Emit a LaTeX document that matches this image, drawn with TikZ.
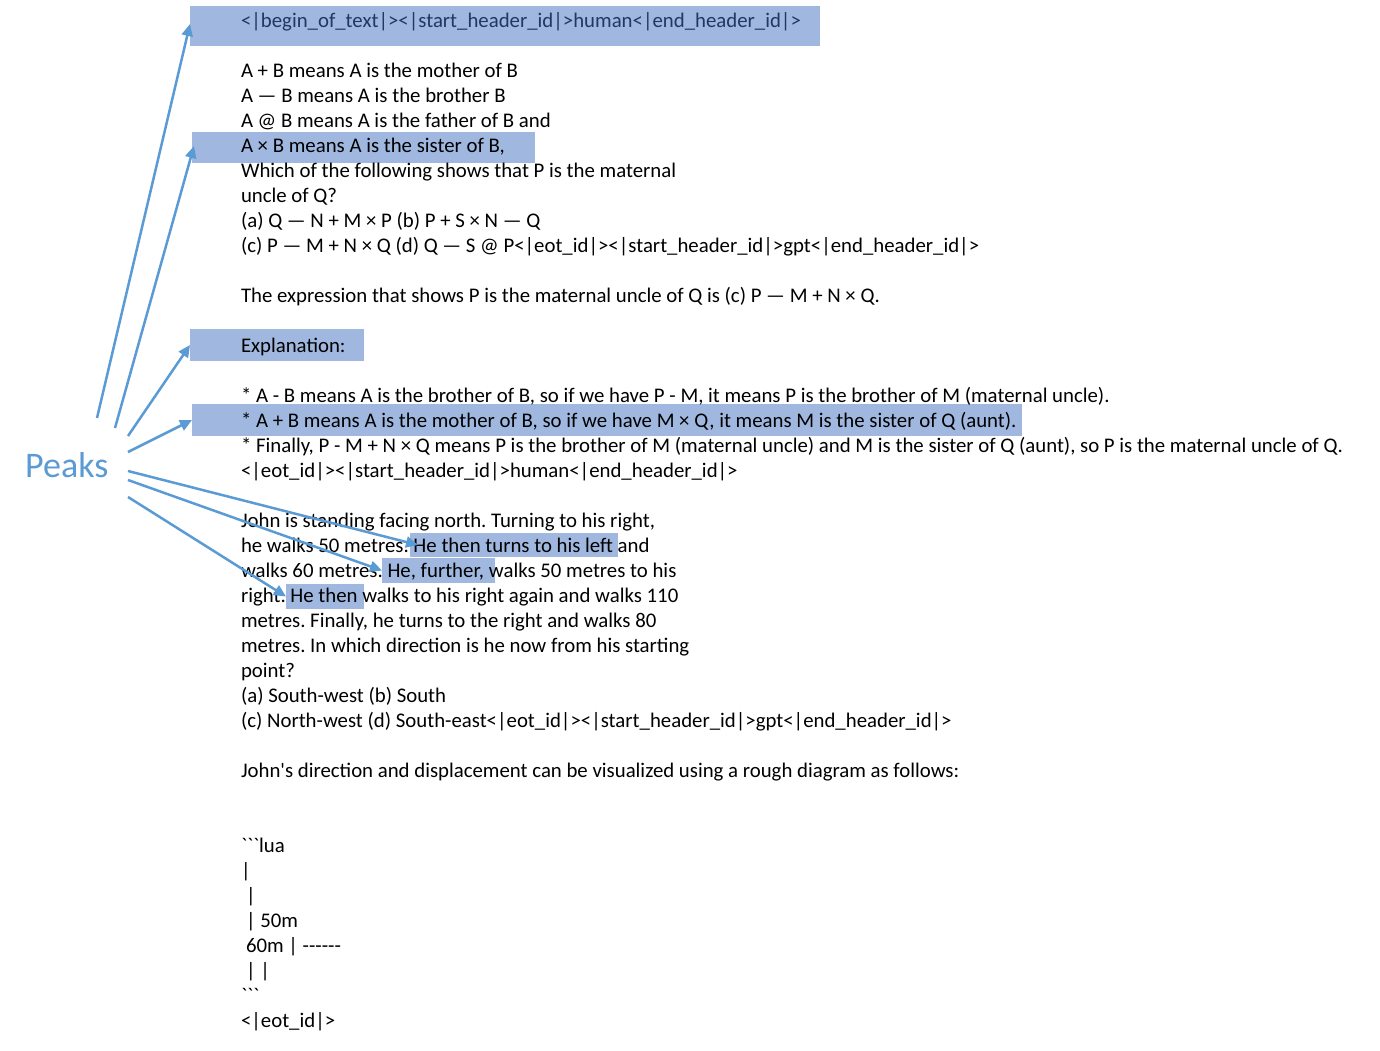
\documentclass[tikz,border=0pt]{standalone}
\usepackage{fontspec}
\setmainfont{Carlito}[Ligatures=TeXOff]
\usetikzlibrary{arrows.meta}
\definecolor{hlblue}{RGB}{160,184,224}
\definecolor{arrowblue}{RGB}{91,155,213}
\definecolor{navy}{RGB}{31,56,100}
\frenchspacing
\begin{document}
\begin{tikzpicture}[x=1pt,y=-1pt,
  hl/.style={fill=hlblue, draw=none, inner sep=0pt, outer sep=0pt},
  txt/.style={anchor=base west, inner sep=0pt, outer sep=0pt, font=\fontsize{20.8}{25}\selectfont},
  arr/.style={draw=arrowblue, line width=2.5pt, -{Triangle[length=12pt,width=11pt]}}]
\useasboundingbox[fill=white] (0,0) rectangle (1380,1050);

% highlight boxes
\node[hl, minimum width=630pt, minimum height=40pt] (b1) at (505,26) {};
\node[hl, minimum width=343pt, minimum height=31pt] (b2) at (363.5,147.5) {};
\node[hl, minimum width=174pt, minimum height=32pt] (b3) at (277,345) {};
\node[hl, minimum width=830pt, minimum height=32pt] (b4) at (607,420) {};
\node[hl, minimum width=208pt, minimum height=24pt] (b5) at (514,545) {};
\node[hl, minimum width=113pt, minimum height=25pt] (b6) at (438.5,570.5) {};
\node[hl, minimum width=78pt, minimum height=25pt] (b7) at (325,596.5) {};

% text
\node[txt, text=navy] (l1) at (241,27) {<|begin\_of\_text|><|start\_header\_id|>human<|end\_header\_id|>};
\node[txt] (l2) at (241,77) {A + B means A is the mother of B};
\node[txt] (l3) at (241,102) {A — B means A is the brother B};
\node[txt] (l4) at (241,127) {A @ B means A is the father of B and};
\node[txt] (l5) at (241,152) {A × B means A is the sister of B,};
\node[txt] (l6) at (241,177) {Which of the following shows that P is the maternal};
\node[txt] (l7) at (241,202) {uncle of Q?};
\node[txt] (l8) at (241,227) {(a) Q — N + M × P (b) P + S × N — Q};
\node[txt] (l9) at (241,252) {(c) P — M + N × Q (d) Q — S @ P<|eot\_id|><|start\_header\_id|>gpt<|end\_header\_id|>};
\node[txt] (l10) at (241,302) {The expression that shows P is the maternal uncle of Q is (c) P — M + N × Q.};
\node[txt] (l11) at (241,352) {Explanation:};
\node[txt] (l12) at (241,402) {* A - B means A is the brother of B, so if we have P - M, it means P is the brother of M (maternal uncle).};
\node[txt] (l13) at (241,427) {* A + B means A is the mother of B, so if we have M × Q, it means M is the sister of Q (aunt).};
\node[txt] (l14) at (241,452) {* Finally, P - M + N × Q means P is the brother of M (maternal uncle) and M is the sister of Q (aunt), so P is the maternal uncle of Q.};
\node[txt] (l15) at (241,477) {<|eot\_id|><|start\_header\_id|>human<|end\_header\_id|>};
\node[txt] (l16) at (241,527) {John is standing facing north. Turning to his right,};
\node[txt] (l17) at (241,552) {he walks 50 metres. He then turns to his left and};
\node[txt] (l18) at (241,577) {walks 60 metres. He, further, walks 50 metres to his};
\node[txt] (l19) at (241,602) {right. He then walks to his right again and walks 110};
\node[txt] (l20) at (241,627) {metres. Finally, he turns to the right and walks 80};
\node[txt] (l21) at (241,652) {metres. In which direction is he now from his starting};
\node[txt] (l22) at (241,677) {point?};
\node[txt] (l23) at (241,702) {(a) South-west (b) South};
\node[txt] (l24) at (241,727) {(c) North-west (d) South-east<|eot\_id|><|start\_header\_id|>gpt<|end\_header\_id|>};
\node[txt] (l25) at (241,777) {John's direction and displacement can be visualized using a rough diagram as follows:};
\node[txt] (l26) at (241,852) {```lua};
\node[txt] (l27) at (241,877) {|};
\node[txt] (l28) at (246,902) {|};
\node[txt] (l29) at (246,927) {| 50m};
\node[txt] (l30) at (246,952) {60m | ------};
\node[txt] (l31) at (246,977) {| |};
\node[txt] (l32) at (241,1002) {```};
\node[txt] (l33) at (241,1027) {<|eot\_id|>};

% Peaks
\node[anchor=base west, inner sep=0pt, text=arrowblue, font=\fontsize{36}{40}\selectfont] (peaks) at (25,477) {Peaks};

% arrow starts
\coordinate (s1) at (97,418);
\coordinate (s2) at (115,428);
\coordinate (s3) at (128,436);
\coordinate (s4) at (128,452);
\coordinate (s5) at (128,471);
\coordinate (s6) at (128,480);
\coordinate (s7) at (128,497);

\draw[arr] (s1) -- ([yshift=2pt]b1.west);
\draw[arr] (s2) -- ([xshift=2pt,yshift=1.5pt]b2.west);
\draw[arr] (s3) -- (b3.west);
\draw[arr] (s4) -- (b4.west);
\draw[arr] (s5) -- ([xshift=8pt]b5.west);
\draw[arr] (s6) -- (b6.west);
\draw[arr] (s7) -- (b7.west);
\end{tikzpicture}
\end{document}
